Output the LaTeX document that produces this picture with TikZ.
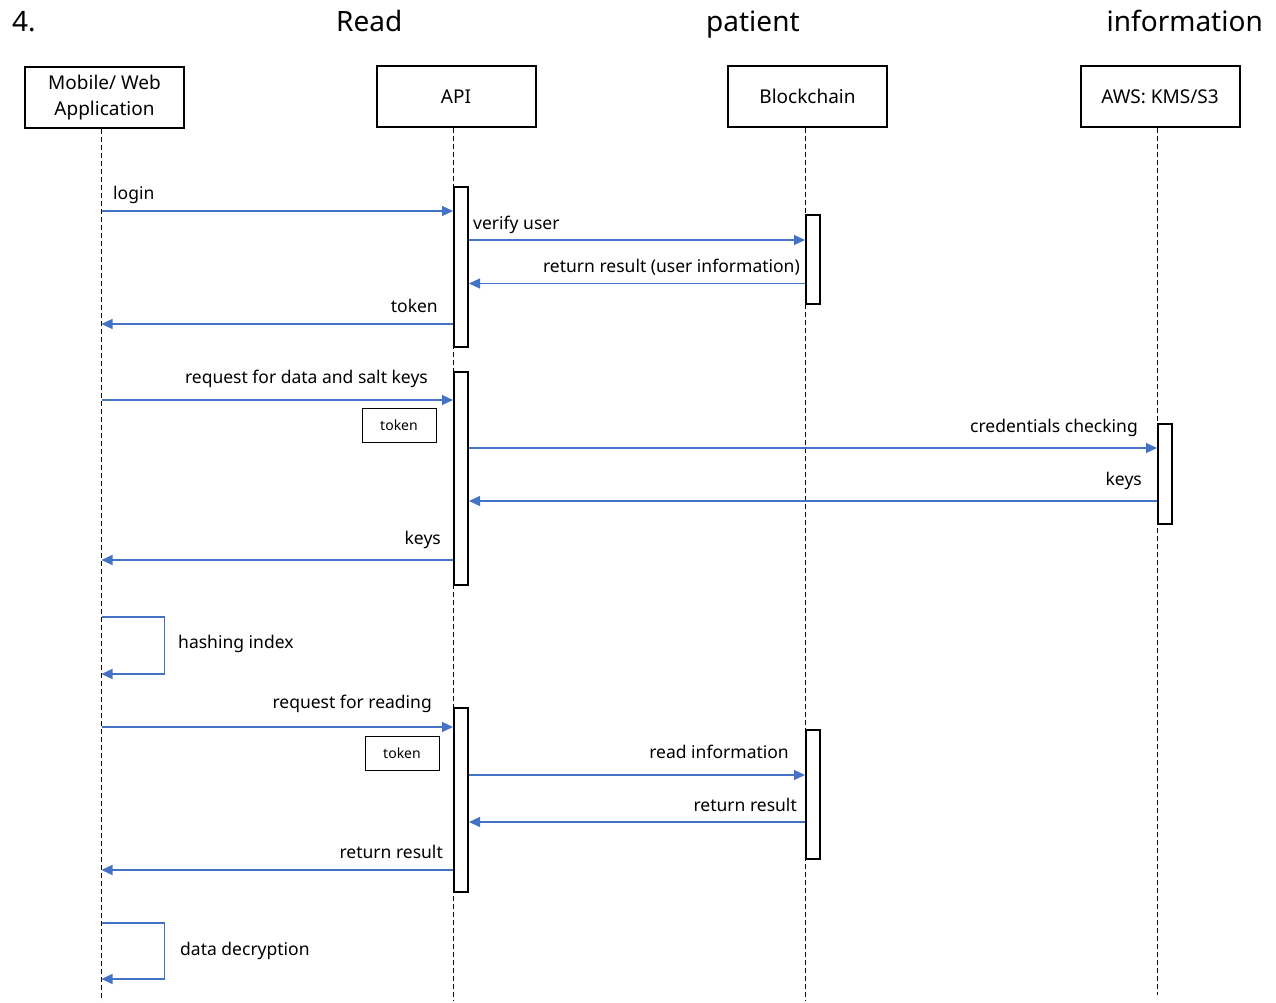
\documentclass[tikz,border=0pt]{standalone}
\usepackage{fontspec}
\setmainfont{Noto Sans}
\usetikzlibrary{arrows.meta}
\definecolor{msgblue}{HTML}{4472C4}
\begin{document}
\begin{tikzpicture}[x=1pt,y=-1pt,
  actor/.style={draw, line width=2pt, minimum width=159pt, minimum height=61pt,
    align=center, inner sep=0pt, font=\fontsize{19}{26}\selectfont},
  lifeline/.style={line width=0.9pt, dash pattern=on 5pt off 3pt},
  actbox/.style={draw, line width=2pt, fill=white, minimum width=14pt,
    inner sep=0pt, anchor=north west},
  msg/.style={draw=msgblue, line width=1.2pt, -{Triangle[length=11pt,width=10pt]}},
  lbl/.style={inner sep=0pt, font=\fontsize{17.5}{21}\selectfont},
  tokbox/.style={draw, line width=1pt, minimum width=74pt, minimum height=34pt,
    inner sep=0pt, font=\fontsize{14}{17}\selectfont},
  heading/.style={inner sep=0pt, anchor=base west, font=\fontsize{28}{33}\selectfont}]
\useasboundingbox (0,0) rectangle (1276,1003);

% heading line
\node[heading] (h1) at (12,31.5) {4.};
\node[heading] (h2) at (336,31.5) {Read};
\node[heading] (h3) at (706,31.5) {patient};
\node[heading, anchor=base east] (h4) at (1263,31.5) {information};

% participants
\node[actor] (mob) at (104.5,97.5) {Mobile/ Web\\Application};
\node[actor] (api) at (456,96.5) {API};
\node[actor] (bc)  at (807.5,96.5) {Blockchain};
\node[actor] (aws) at (1160,96.5) {AWS: KMS/S3};

% lifeline x positions
\coordinate (xm) at (101.5,0);
\coordinate (xa) at (453.5,0);
\coordinate (xb) at (805.5,0);
\coordinate (xk) at (1157.5,0);

% lifeline ends
\coordinate (mobEnd) at (101.5,1001);
\coordinate (apiEnd) at (453.5,1001);
\coordinate (bcEnd)  at (805.5,1001);
\coordinate (awsEnd) at (1157.5,995);

\draw[lifeline] (mob.south -| xm) -- (mobEnd);
\draw[lifeline] (api.south -| xa) -- (apiEnd);
\draw[lifeline] (bc.south -| xb)  -- (bcEnd);
\draw[lifeline] (aws.south -| xk) -- (awsEnd);

% activation bars (left edge on the lifeline)
\node[actbox, minimum height=160pt] (a1) at (453,186) {};
\node[actbox, minimum height=89pt]  (b1) at (805,214) {};
\node[actbox, minimum height=213pt] (a2) at (453,371) {};
\node[actbox, minimum height=100pt] (k1) at (1157,423) {};
\node[actbox, minimum height=129pt] (b2) at (805,729) {};
\node[actbox, minimum height=184pt] (a3) at (453,707) {};

% message rows
\coordinate (y1) at (0,211);
\coordinate (y2) at (0,240);
\coordinate (y3) at (0,283.5);
\coordinate (y4) at (0,324);
\coordinate (y5) at (0,400);
\coordinate (y6) at (0,448);
\coordinate (y7) at (0,501);
\coordinate (y8) at (0,560);
\coordinate (y9a) at (0,617);
\coordinate (y9b) at (0,674);
\coordinate (y10) at (0,727);
\coordinate (y11) at (0,775);
\coordinate (y12) at (0,822);
\coordinate (y13) at (0,870);
\coordinate (y14a) at (0,923);
\coordinate (y14b) at (0,979);

% login
\draw[msg] (xm |- y1) -- (a1.west |- y1);
\node[lbl, anchor=base west] (l1) at (113,200) {login};
\draw[msg] (a1.east |- y2) -- (b1.west |- y2);
\node[lbl, anchor=base west] (l2) at (473,229) {verify user};
\draw[msg] (b1.west |- y3) -- (a1.east |- y3);
\node[lbl, anchor=base east] (l3) at (800,272.5) {return result (user information)};
\draw[msg] (a1.west |- y4) -- (xm |- y4);
\node[lbl, anchor=base east] (l4) at (438,312) {token};

% keys request
\draw[msg] (xm |- y5) -- (a2.west |- y5);
\node[lbl, anchor=base east] (l5) at (428,383) {request for data and salt keys};
\node[tokbox] (t1) at (399,425) {token};
\draw[msg] (a2.east |- y6) -- (k1.west |- y6);
\node[lbl, anchor=base east] (l6) at (1138,432) {credentials checking};
\draw[msg] (k1.west |- y7) -- (a2.east |- y7);
\node[lbl, anchor=base east] (l7) at (1142,485) {keys};
\draw[msg] (a2.west |- y8) -- (xm |- y8);
\node[lbl, anchor=base east] (l8) at (441,544) {keys};

% hashing index
\draw[msg] (xm |- y9a) -- ++(63,0) |- (xm |- y9b);
\node[lbl, anchor=base west] (l9) at (178,648) {hashing index};

% read request
\draw[msg] (xm |- y10) -- (a3.west |- y10);
\node[lbl, anchor=base east] (l10) at (432,708) {request for reading};
\node[tokbox] (t2) at (402,753.5) {token};
\draw[msg] (a3.east |- y11) -- (b2.west |- y11);
\node[lbl, anchor=base east] (l11) at (789,758) {read information};
\draw[msg] (b2.west |- y12) -- (a3.east |- y12);
\node[lbl, anchor=base east] (l12) at (797,811) {return result};
\draw[msg] (a3.west |- y13) -- (xm |- y13);
\node[lbl, anchor=base east] (l13) at (443,858) {return result};

% data decryption
\draw[msg] (xm |- y14a) -- ++(63,0) |- (xm |- y14b);
\node[lbl, anchor=base west] (l14) at (180,955) {data decryption};
\end{tikzpicture}
\end{document}
